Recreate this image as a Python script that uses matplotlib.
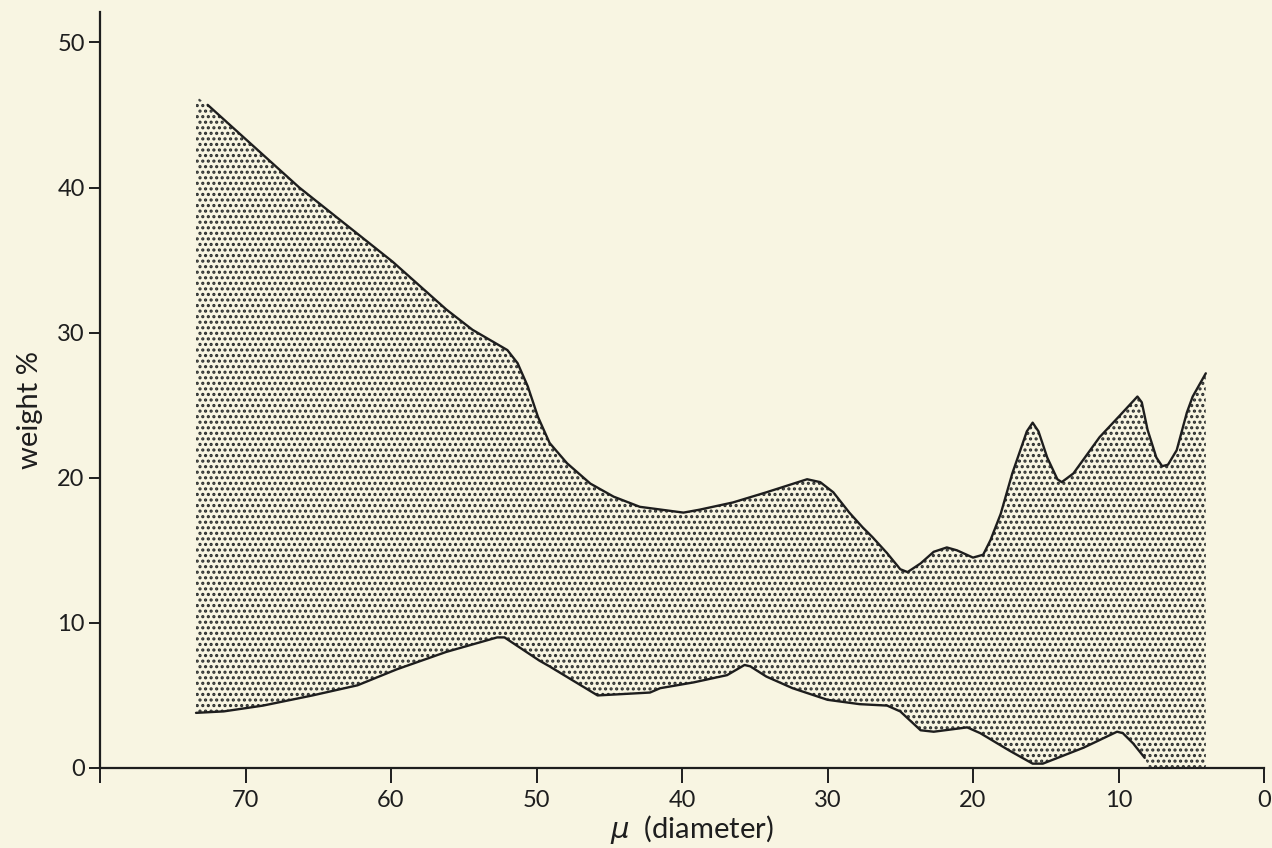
import numpy as np
import matplotlib
matplotlib.use("Agg")
import matplotlib.pyplot as plt

plt.rcParams['font.family'] = ['Lato', 'DejaVu Sans']
plt.rcParams['hatch.linewidth'] = 1.5

# Upper curve (diameter in microns, weight %)
upper_x = [73.4, 72.6, 66.3, 59.9, 56.2, 54.4, 52.0, 51.3, 50.6, 49.9, 49.1, 47.9, 46.3, 44.7,
           42.9, 39.9, 38.8, 36.5, 34.2, 31.4, 30.5, 29.6, 28.5, 27.6, 26.9, 25.9, 25.0, 24.5,
           23.6, 22.7, 21.8, 21.1, 20.0, 19.3, 18.8, 18.1, 17.3, 16.3, 15.9, 15.5, 14.9, 14.2,
           13.9, 13.1, 11.3, 9.9, 8.7, 8.4, 8.0, 7.4, 7.0, 6.6, 6.0, 5.3, 4.9, 4.0]
upper_y = [46.3, 45.7, 40.0, 34.9, 31.6, 30.2, 28.8, 27.9, 26.3, 24.2, 22.4, 21.0, 19.6, 18.7,
           18.0, 17.6, 17.8, 18.3, 19.0, 19.9, 19.7, 19.0, 17.6, 16.6, 15.9, 14.8, 13.7, 13.5,
           14.1, 14.9, 15.2, 15.0, 14.5, 14.7, 15.7, 17.5, 20.3, 23.2, 23.8, 23.2, 21.4, 19.9,
           19.7, 20.3, 22.8, 24.3, 25.6, 25.2, 23.3, 21.4, 20.8, 20.9, 21.9, 24.5, 25.6, 27.2]

# Lower curve
lower_x = [73.4, 71.5, 68.8, 65.4, 62.3, 59.6, 56.2, 52.7, 52.2, 49.8, 49.1, 45.8, 42.2, 41.5,
           39.2, 36.9, 35.7, 35.3, 34.2, 32.4, 30.0, 27.8, 25.9, 25.0, 23.6, 22.7, 20.4, 19.5,
           17.5, 15.9, 15.2, 12.4, 10.1, 9.7, 9.0, 8.2]
lower_y = [3.8, 3.9, 4.3, 5.0, 5.7, 6.8, 8.0, 9.0, 9.0, 7.4, 7.0, 5.0, 5.2, 5.5,
           5.9, 6.4, 7.1, 7.0, 6.3, 5.5, 4.7, 4.4, 4.3, 3.9, 2.6, 2.5, 2.8, 2.4,
           1.2, 0.3, 0.3, 1.4, 2.5, 2.4, 1.7, 0.7]

x_ticks = [80, 70, 60, 50, 40, 30, 20, 10, 0]
x_labels = ['', '70', '60', '50', '40', '30', '20', '10', '0']
y_ticks = [0, 10, 20, 30, 40, 50]

bg = '#f8f5e2'
ink = '#1e1e1e'
dots = '#2a2d2d'

fig = plt.figure(figsize=(12.72, 8.48), dpi=100, facecolor=bg)
ax = fig.add_axes([100/1272, 1-768/848, (1264-100)/1272, (768-12)/848])
ax.set_facecolor(bg)

# shaded region polygon
poly_x = list(upper_x) + [upper_x[-1], 7.9] + list(lower_x[::-1])
poly_y = list(upper_y) + [0.0, 0.0] + list(lower_y[::-1])
ax.fill(poly_x, poly_y, facecolor='none', edgecolor=dots, hatch='...', linewidth=0)

ax.plot(upper_x[1:], upper_y[1:], color=ink, lw=1.7, solid_capstyle='round',
        solid_joinstyle='round')
ax.plot(lower_x, lower_y, color=ink, lw=1.7, solid_capstyle='round',
        solid_joinstyle='round')

ax.set_xlim(80, 0)
ax.set_ylim(0, 52.1)
ax.set_xticks(x_ticks)
ax.set_xticklabels(x_labels)
ax.set_yticks(y_ticks)
ax.tick_params(axis='x', direction='out', length=11, width=1.4, color=ink,
               labelsize=17, labelcolor=ink, pad=5)
ax.tick_params(axis='y', direction='out', length=8, width=1.4, color=ink,
               labelsize=17, labelcolor=ink, pad=3)
for s in ['top', 'right']:
    ax.spines[s].set_visible(False)
for s in ['left', 'bottom']:
    ax.spines[s].set_color(ink)
    ax.spines[s].set_linewidth(1.6)

fig.text(30/1272, 1-410/848, 'weight %', rotation=90, ha='center', va='center',
         fontsize=21, color=ink)
fig.text(692/1272, 1-830/848, r'$\mu$  (diameter)', ha='center', va='center',
         fontsize=21, color=ink)

fig.savefig('out.png', dpi=100, facecolor=bg)
